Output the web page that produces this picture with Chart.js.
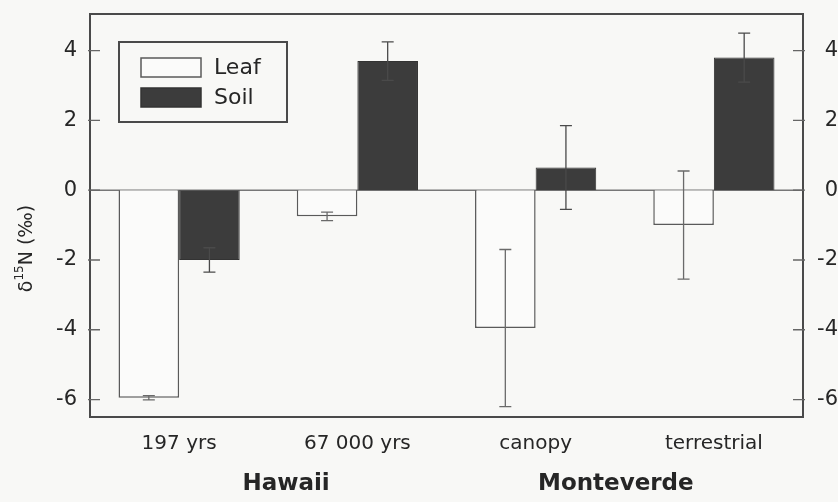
<!DOCTYPE html>
<html>
<head>
<meta charset="utf-8">
<script src="https://cdn.jsdelivr.net/npm/chart.js@4/dist/chart.umd.min.js"></script>
<style>
  html, body { margin: 0; padding: 0; background: #f8f8f6; }
  canvas { display: block; }
</style>
</head>
<body>
<canvas id="isoChart" width="838" height="502"></canvas>
<script>
// Site categories and groups
var categories = ['197 yrs', '67 000 yrs', 'canopy', 'terrestrial'];
var groupNames = ['Hawaii', 'Monteverde'];
var groupCenters = [0.6, 2.45]; // in category units along the x axis

// d15N means and error bars (per mil)
var leafValues = [-5.95, -0.75, -3.95, -1.0];
var leafErrors = [0.06, 0.12, 2.25, 1.55];
var soilValues = [-2.0, 3.7, 0.65, 3.8];
var soilErrors = [0.35, 0.55, 1.2, 0.7];

var yTicks = [-6, -4, -2, 0, 2, 4];

var FONT = '"DejaVu Sans", Verdana, sans-serif';
var INK = '#4a4a4a';
var TEXT = '#262626';

// keep only the labelled ticks
function keepTicks(scale) {
    scale.ticks = yTicks.map(function(v) { return { value: v }; });
}

// frame, zero line, inside tick marks, error bars, legend and group labels
var decorPlugin = {
    id: 'decor',
    beforeDraw: function(chart) {
        var ctx = chart.ctx;
        ctx.save();
        ctx.fillStyle = '#f8f8f6';
        ctx.fillRect(0, 0, chart.width, chart.height);
        ctx.restore();
    },
    beforeDatasetsDraw: function(chart) {
        var ctx = chart.ctx, a = chart.chartArea, y = chart.scales.y;
        ctx.save();
        ctx.strokeStyle = '#777';
        ctx.lineWidth = 1.5;
        var y0 = y.getPixelForValue(0);
        ctx.beginPath();
        ctx.moveTo(a.left, y0);
        ctx.lineTo(a.right, y0);
        ctx.stroke();
        ctx.restore();
    },
    afterDatasetsDraw: function(chart) {
        var ctx = chart.ctx, a = chart.chartArea, y = chart.scales.y;
        ctx.save();

        // error bars
        var errs = [leafErrors, soilErrors];
        chart.data.datasets.forEach(function(ds, di) {
            var meta = chart.getDatasetMeta(di);
            meta.data.forEach(function(bar, i) {
                var v = ds.data[i], e = errs[di][i];
                var yTop = y.getPixelForValue(v + e);
                var yBot = y.getPixelForValue(v - e);
                ctx.strokeStyle = di === 0 ? '#6a6a6a' : '#4a4a4a';
                ctx.lineWidth = 1.3;
                ctx.beginPath();
                ctx.moveTo(bar.x, yTop); ctx.lineTo(bar.x, yBot);
                ctx.moveTo(bar.x - 6, yTop); ctx.lineTo(bar.x + 6, yTop);
                ctx.moveTo(bar.x - 6, yBot); ctx.lineTo(bar.x + 6, yBot);
                ctx.stroke();
            });
        });

        // frame
        ctx.strokeStyle = INK;
        ctx.lineWidth = 2;
        ctx.strokeRect(a.left, a.top, a.right - a.left, a.bottom - a.top);

        // tick marks pointing inward on both sides
        ctx.lineWidth = 1.3;
        ctx.strokeStyle = '#666';
        yTicks.forEach(function(v) {
            var py = y.getPixelForValue(v);
            ctx.beginPath();
            ctx.moveTo(a.left - 2, py); ctx.lineTo(a.left + 10, py);
            ctx.moveTo(a.right - 10, py); ctx.lineTo(a.right + 2, py);
            ctx.stroke();
        });

        // legend box
        var bx = a.left + 29, by = a.top + 28, bw = 168, bh = 80;
        ctx.strokeStyle = INK;
        ctx.lineWidth = 2;
        ctx.strokeRect(bx, by, bw, bh);
        ctx.font = '22px ' + FONT;
        ctx.textBaseline = 'middle';
        chart.data.datasets.forEach(function(ds, di) {
            var sy = by + 16 + di * 30;
            ctx.fillStyle = ds.backgroundColor;
            ctx.fillRect(bx + 22, sy, 60, 19);
            ctx.strokeStyle = ds.borderColor;
            ctx.lineWidth = 1.5;
            ctx.strokeRect(bx + 22, sy, 60, 19);
            ctx.fillStyle = TEXT;
            ctx.fillText(ds.label, bx + 95, sy + 10);
        });

        // group labels under the category labels
        var x = chart.scales.x;
        ctx.font = 'bold 23px ' + FONT;
        ctx.fillStyle = TEXT;
        ctx.textAlign = 'center';
        groupNames.forEach(function(name, i) {
            ctx.fillText(name, x.getPixelForValue(groupCenters[i]), a.bottom + 67);
        });

        // y axis title with superscript
        ctx.translate(27, (a.top + a.bottom) / 2 + 33);
        ctx.rotate(-Math.PI / 2);
        ctx.textAlign = 'left';
        ctx.textBaseline = 'middle';
        var t1 = '\u03b4', t2 = '15', t3 = 'N (\u2030)';
        ctx.font = '19px ' + FONT;
        var w1 = ctx.measureText(t1).width;
        ctx.font = '12px ' + FONT;
        var w2 = ctx.measureText(t2).width;
        ctx.font = '19px ' + FONT;
        var w3 = ctx.measureText(t3).width;
        var sx = -(w1 + w2 + w3) / 2;
        ctx.fillText(t1, sx, 0);
        ctx.font = '12px ' + FONT;
        ctx.fillText(t2, sx + w1, -7);
        ctx.font = '19px ' + FONT;
        ctx.fillText(t3, sx + w1 + w2, 0);

        ctx.restore();
    }
};

function fixVertical(width) {
    return function(scale) {
        scale.width = width;
        scale.paddingTop = 0;
        scale.paddingBottom = 0;
    };
}

var chart = new Chart(document.getElementById('isoChart'), {
    type: 'bar',
    data: {
        labels: categories,
        datasets: [{
            label: 'Leaf',
            data: leafValues,
            backgroundColor: '#fbfbfa',
            borderColor: '#5a5a5a',
            borderWidth: 1.5
        }, {
            label: 'Soil',
            data: soilValues,
            backgroundColor: '#3c3c3c',
            borderColor: '#333',
            borderWidth: 1
        }]
    },
    options: {
        responsive: false,
        animation: false,
        layout: { padding: { top: 14, left: 0, right: 0, bottom: 0 } },
        datasets: {
            bar: { categoryPercentage: 0.68, barPercentage: 1.0 }
        },
        plugins: {
            legend: { display: false },
            tooltip: { enabled: false }
        },
        scales: {
            x: {
                grid: { display: false },
                border: { display: false },
                ticks: {
                    padding: 7,
                    color: TEXT,
                    font: { family: FONT, size: 20 }
                },
                afterFit: function(scale) {
                    scale.height = 85;
                    scale.paddingLeft = 0;
                    scale.paddingRight = 0;
                }
            },
            y: {
                min: -6.5,
                max: 5.05,
                grid: { display: false, drawTicks: false },
                border: { display: false },
                afterBuildTicks: keepTicks,
                ticks: {
                    padding: 13,
                    color: TEXT,
                    font: { family: FONT, size: 21 },
                    callback: function(v) { return String(v); }
                },
                afterFit: fixVertical(90)
            },
            y2: {
                position: 'right',
                min: -6.5,
                max: 5.05,
                grid: { display: false, drawTicks: false },
                border: { display: false },
                afterBuildTicks: keepTicks,
                ticks: {
                    padding: 8,
                    crossAlign: 'far',
                    color: TEXT,
                    font: { family: FONT, size: 21 },
                    callback: function(v) { return String(v); }
                },
                afterFit: fixVertical(35)
            }
        }
    },
    plugins: [decorPlugin]
});
</script>
</body>
</html>
